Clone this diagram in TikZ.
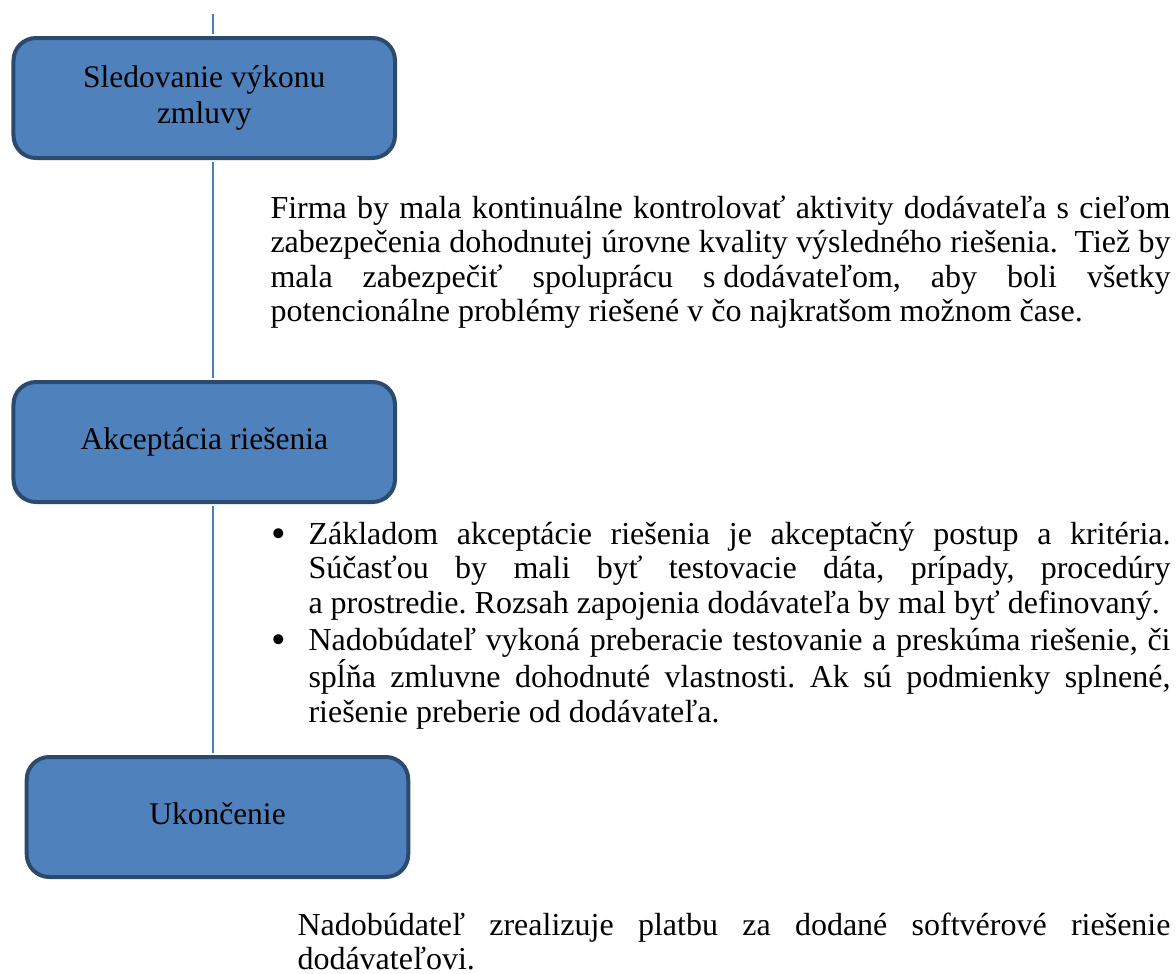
\documentclass[tikz,border=0pt]{standalone}
\usepackage{fontspec}
\setmainfont{Liberation Serif}
\usetikzlibrary{positioning}
\definecolor{boxfill}{HTML}{4F81BD}
\definecolor{boxline}{HTML}{2C4A6E}
\definecolor{axisblue}{HTML}{4A7EBB}
\frenchspacing
\hyphenpenalty=10000
\exhyphenpenalty=10000
\newcommand\bodyfont{\fontsize{12.8pt}{13.8pt}\selectfont}
\newcommand\itembullet{\llap{\raisebox{-1.4pt}{\scalebox{1.3}{\textbullet}}\hspace{9pt}}}
\tikzset{
  phase/.style={draw=boxline, line width=1.6pt, fill=boxfill, rounded corners=9pt,
    minimum width=152.6pt, minimum height=48pt, align=center, inner sep=0pt,
    font=\fontsize{12.6pt}{14.4pt}\selectfont},
  axisline/.style={draw=axisblue, line width=0.8pt, shorten <=0.8pt, shorten >=0.8pt},
  para/.style={anchor=base west, inner sep=0pt, align=justify, font=\bodyfont},
}
\begin{document}
\begin{tikzpicture}[x=0.4pt, y=-0.4pt]
    \useasboundingbox (0,0) rectangle (1176,974);
    % phases
    \node[phase] (sledovanie) at (204.25,98) {Sledovanie výkonu\\zmluvy};
    \node[phase] (akceptacia) at (204.25,442) {\strut Akceptácia riešenia};
    \node[phase] (ukoncenie) at (217.5,817) {\strut Ukončenie};
    % time line
    \coordinate (top) at (213,14);
    \draw[axisline, shorten <=0pt] (top) -- (sledovanie.north -| top);
    \draw[axisline] (sledovanie.south -| top) -- (akceptacia.north -| top);
    \draw[axisline] (akceptacia.south -| top) -- (ukoncenie.north -| top);
    % descriptions
    \node[para, text width=360pt] (popis1) at (270,218)
      {Firma by mala kontinuálne kontrolovať aktivity dodávateľa s cieľom\linebreak
       zabezpečenia dohodnutej úrovne kvality výsledného riešenia.\ \ Tiež by\linebreak
       mala zabezpečiť spoluprácu s\hspace{0.25em}dodávateľom, aby boli všetky\linebreak
       potencionálne problémy riešené v čo najkratšom možnom čase.};
    \node[para, text width=344.8pt] (bod1) at (308,544)
      {\itembullet Základom akceptácie riešenia je akceptačný postup a kritéria.\linebreak
       Súčasťou by mali byť testovacie dáta, prípady, procedúry\linebreak
       a prostredie. Rozsah zapojenia dodávateľa by mal byť definovaný.};
    \node[para, text width=344.8pt] (bod2) at (308,650)
      {\itembullet Nadobúdateľ vykoná preberacie testovanie a preskúma riešenie, či\linebreak
       spĺňa zmluvne dohodnuté vlastnosti. Ak sú podmienky splnené,\linebreak
       riešenie preberie od dodávateľa.};
    \node[para, text width=349.2pt] (popis3) at (297,935)
      {Nadobúdateľ zrealizuje platbu za dodané softvérové riešenie\linebreak
       dodávateľovi.};
\end{tikzpicture}
\end{document}
